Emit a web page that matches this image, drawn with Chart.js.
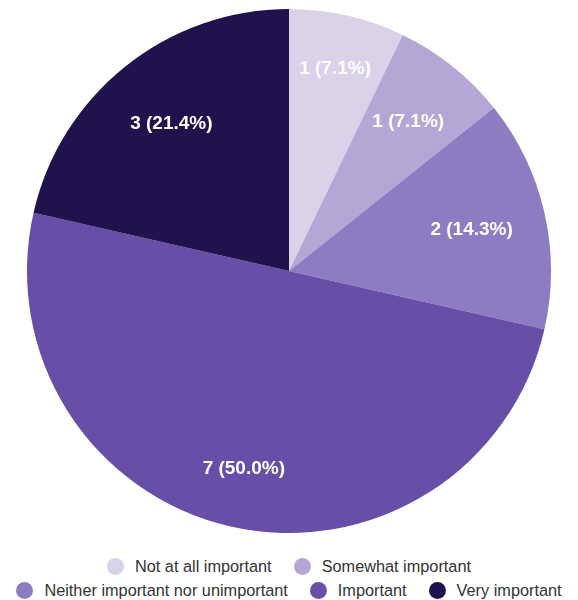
<!DOCTYPE html>
<html>
<head>
<meta charset="utf-8">
<script src="https://cdn.jsdelivr.net/npm/chart.js@4/dist/chart.umd.min.js"></script>
<style>
  html, body { margin: 0; padding: 0; background: #fff; }
  #wrap { width: 578px; height: 545px; position: relative; }
  #legend {
    position: absolute; left: 0; top: 554px; width: 578px;
    display: flex; flex-wrap: wrap; justify-content: center;
    column-gap: 22px; row-gap: 0;
    font: 16.3px 'Liberation Sans', Arial, sans-serif; color: #333;
  }
  #legend .item { display: flex; align-items: center; height: 24px; white-space: nowrap; }
  #legend .dot { width: 17px; height: 17px; border-radius: 50%; margin-right: 11px; flex: none; }
</style>
</head>
<body>
<div id="wrap"><canvas id="pie"></canvas></div>
<div id="legend"></div>
<script>
const categories = ['Not at all important', 'Somewhat important', 'Neither important nor unimportant', 'Important', 'Very important'];
const counts = [1, 1, 2, 7, 3];
const sliceColors = ['#d9d2e9', '#b4a7d6', '#8e7cc3', '#674ea7', '#20124d'];
// how far out each slice label sits, as a share of the radius
const labelRadius = [0.79, 0.73, 0.715, 0.775, 0.72];

Chart.defaults.font.family = "'Liberation Sans', Arial, sans-serif";
Chart.defaults.color = '#333333';

// count + share written inside each slice
const sliceLabels = {
  id: 'sliceLabels',
  afterDatasetsDraw(chart) {
    const ctx = chart.ctx;
    const meta = chart.getDatasetMeta(0);
    const total = counts.reduce((a, b) => a + b, 0);
    ctx.save();
    ctx.font = "bold 19px 'Liberation Sans', Arial, sans-serif";
    ctx.fillStyle = '#ffffff';
    ctx.textAlign = 'center';
    ctx.textBaseline = 'middle';
    meta.data.forEach((arc, i) => {
      const { x, y, startAngle, endAngle, outerRadius } = arc.getProps(['x', 'y', 'startAngle', 'endAngle', 'outerRadius'], true);
      const mid = (startAngle + endAngle) / 2;
      const r = outerRadius * labelRadius[i];
      const pct = (counts[i] / total * 100).toFixed(1);
      ctx.fillText(`${counts[i]} (${pct}%)`, x + Math.cos(mid) * r, y + Math.sin(mid) * r);
    });
    ctx.restore();
  }
};

// legend as html so item gaps and row spacing can be set separately
function buildLegend(chart) {
  const box = document.getElementById('legend');
  box.innerHTML = '';
  chart.data.labels.forEach((label, i) => {
    const item = document.createElement('div');
    item.className = 'item';
    const dot = document.createElement('span');
    dot.className = 'dot';
    dot.style.background = chart.data.datasets[0].backgroundColor[i];
    const txt = document.createElement('span');
    txt.textContent = label;
    item.appendChild(dot);
    item.appendChild(txt);
    box.appendChild(item);
  });
}

const chart = new Chart(document.getElementById('pie').getContext('2d'), {
  type: 'pie',
  data: {
    labels: categories,
    datasets: [{
      data: counts,
      backgroundColor: sliceColors,
      borderWidth: 0,
    }],
  },
  options: {
    responsive: true,
    maintainAspectRatio: false,
    animation: false,
    layout: { padding: { top: 9, bottom: 12 } },
    plugins: {
      tooltip: { enabled: false },
      legend: { display: false },
    },
  },
  plugins: [sliceLabels],
});
buildLegend(chart);
</script>
</body>
</html>
